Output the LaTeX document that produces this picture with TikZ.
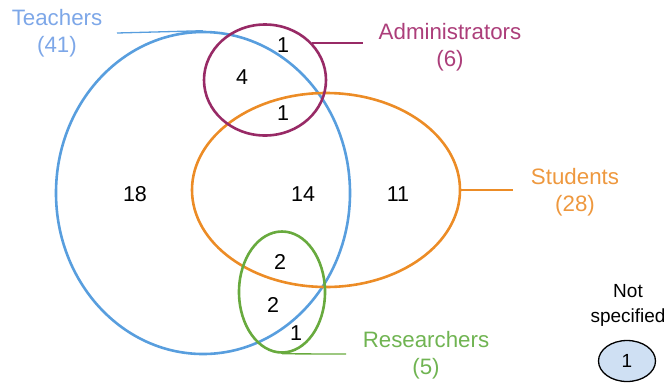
\documentclass[tikz,border=0pt]{standalone}
\usepackage{fontspec}
\setmainfont{Liberation Sans}
\usetikzlibrary{shapes.geometric}
\definecolor{teachblue}{RGB}{88,158,222}
\definecolor{teachtext}{RGB}{125,167,232}
\definecolor{adminpurple}{RGB}{152,42,102}
\definecolor{admintext}{RGB}{172,62,122}
\definecolor{studorange}{RGB}{236,140,38}
\definecolor{studtext}{RGB}{238,152,62}
\definecolor{resgreen}{RGB}{104,170,62}
\definecolor{restext}{RGB}{112,180,82}
\definecolor{nsfill}{RGB}{207,224,243}

\begin{document}
\begin{tikzpicture}[x=1pt, y=-1pt,
	set/.style={ellipse, draw, line width=2.6pt, inner sep=0pt},
	count/.style={font=\fontsize{21.5}{25}\selectfont},
	setlabel/.style={align=center, font=\fontsize{22.3}{27}\selectfont},
	leader/.style={line width=1.3pt}]
	\useasboundingbox (0, 0) rectangle (664, 384);
	% Sets:
	\node[set, teachblue, minimum width=294pt, minimum height=322pt] (teach) at (203, 193){};
	\node[set, studorange, minimum width=268pt, minimum height=194pt] (stud) at (326, 190){};
	\node[set, adminpurple, minimum width=122pt, minimum height=111pt] (admin) at (265, 80){};
	\node[set, resgreen, minimum width=86pt, minimum height=121pt] (res) at (282, 292){};
	% Labels and leader lines:
	\node[setlabel, teachtext] (teachlbl) at (57, 33){Teachers\\(41)};
	\coordinate (teachend) at (117, 33);
	\draw[leader, teachblue] (teachend) -- (teach.north);
	\node[setlabel, admintext] (adminlbl) at (450, 47){Administrators\\(6)};
	\coordinate (adminend) at (363, 44);
	\draw[leader, adminpurple] (admin.38) -- (admin.38 -| adminend);
	\node[setlabel, studtext] (studlbl) at (575, 192){Students\\(28)};
	\coordinate (studend) at (513, 190);
	\draw[leader, studorange] (stud.east) -- (studend);
	\node[setlabel, restext] (reslbl) at (426, 355){Researchers\\(5)};
	\coordinate (resend) at (346, 354);
	\draw[leader, resgreen] (res.south) -- (resend);
	% Counts:
	\node[count] (nadmin) at (283, 45){1};
	\node[count] (nadminteach) at (242, 77){4};
	\node[count] (nall) at (283, 113){1};
	\node[count] (nteach) at (135, 194){18};
	\node[count] (nteachstud) at (303, 194){14};
	\node[count] (nstud) at (398, 194){11};
	\node[count] (nresall) at (280, 262){2};
	\node[count] (nresteach) at (273, 305){2};
	\node[count] (nres) at (296, 333){1};
	% Not specified:
	\node[align=center, font=\fontsize{19}{25}\selectfont] (nslbl) at (628, 305){Not\\specified};
	\node[ellipse, draw, line width=1.3pt, fill=nsfill, inner sep=0pt, minimum width=57pt, minimum height=41pt, font=\fontsize{19}{23}\selectfont] (ns) at (627, 361){1};
\end{tikzpicture}
\end{document}
